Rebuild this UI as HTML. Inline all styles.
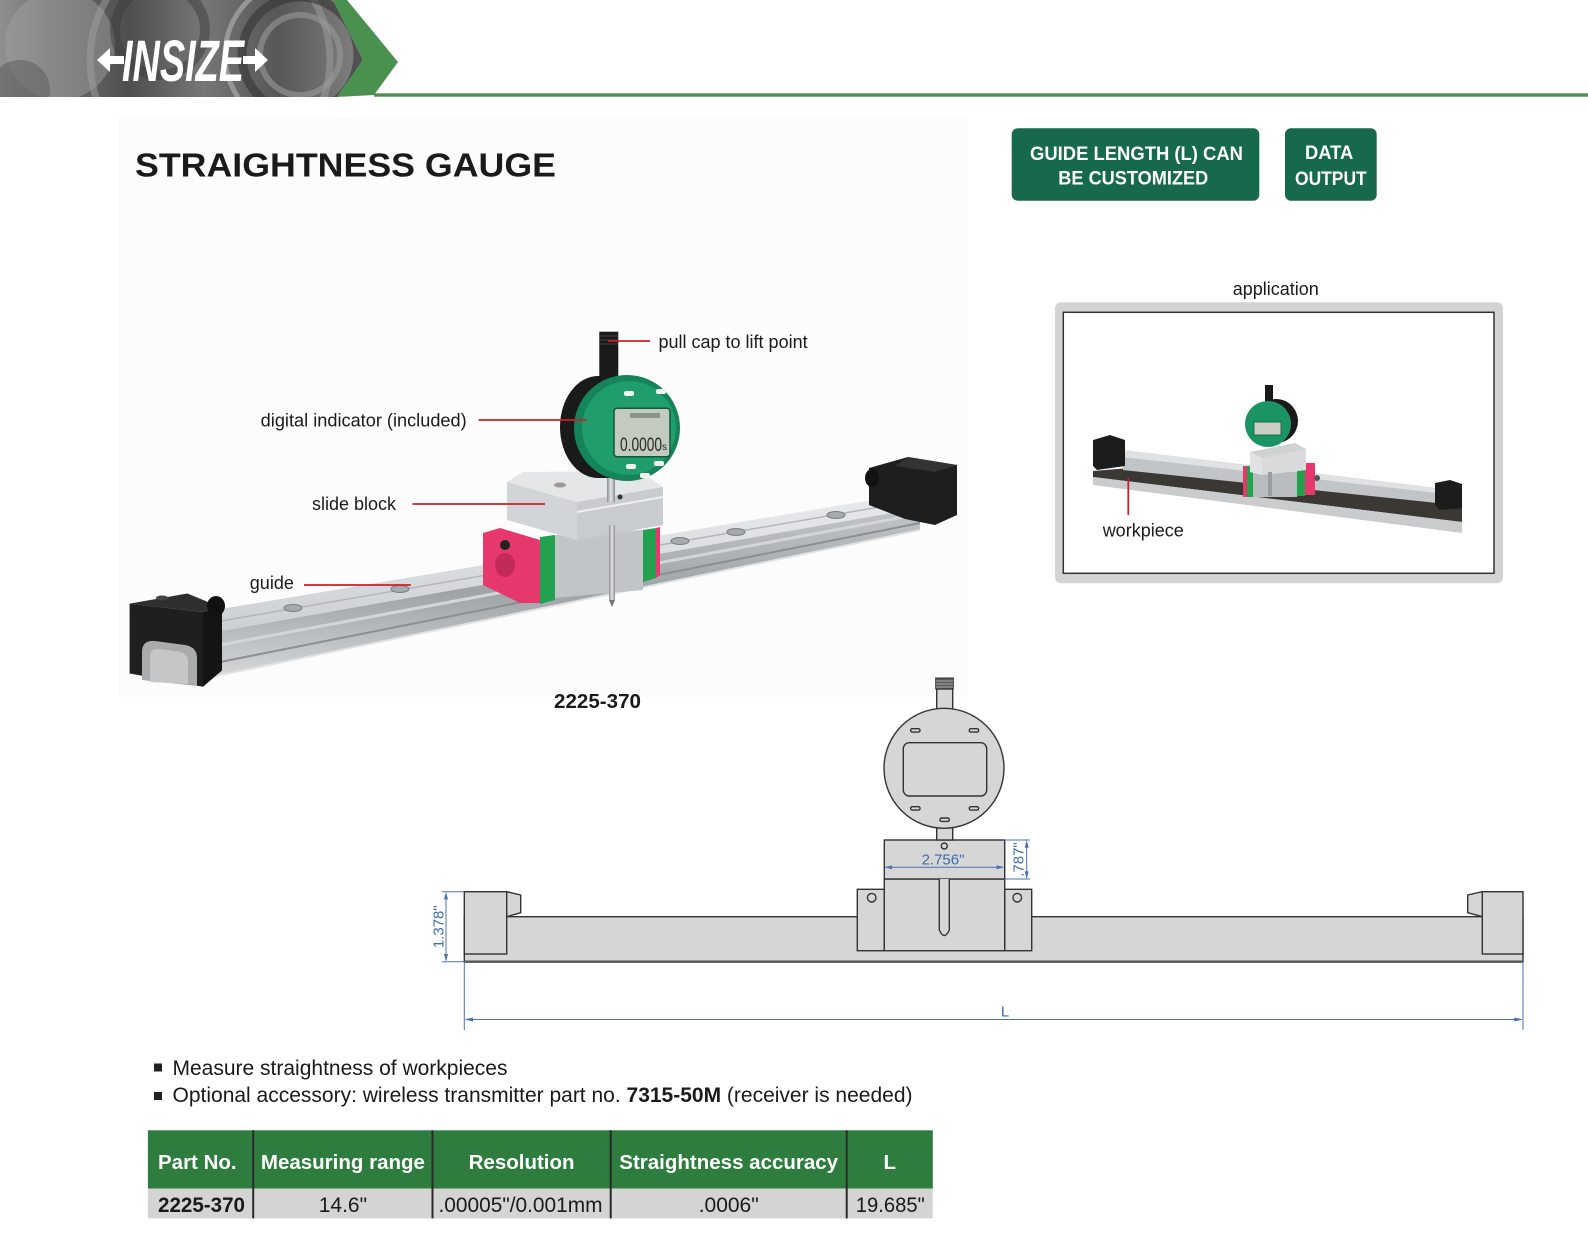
<!DOCTYPE html>
<html><head><meta charset="utf-8"><style>
html,body{margin:0;padding:0;background:#fff;}
svg{display:block;}
text{font-family:"Liberation Sans",Arial,sans-serif;}
</style></head><body>
<svg width="1588" height="1260" viewBox="0 0 1588 1260" xmlns="http://www.w3.org/2000/svg">
<defs>
 <linearGradient id="ban" x1="0" x2="1" y1="0" y2="0">
  <stop offset="0" stop-color="#8f8f8f"/><stop offset="0.15" stop-color="#6f6f6f"/>
  <stop offset="0.35" stop-color="#4e4e4e"/><stop offset="0.55" stop-color="#767676"/>
  <stop offset="0.75" stop-color="#575757"/><stop offset="1" stop-color="#858585"/>
 </linearGradient>
 <clipPath id="banclip"><polygon points="0,0 333,0 363,60 337,97 0,97"/></clipPath>
 <linearGradient id="railTop" x1="0" x2="0" y1="0" y2="1">
  <stop offset="0" stop-color="#e8eaec"/><stop offset="1" stop-color="#cdd0d3"/>
 </linearGradient>
 <linearGradient id="railFront" x1="0" x2="0" y1="0" y2="1">
  <stop offset="0" stop-color="#c2c6c9"/><stop offset="0.5" stop-color="#9ea3a7"/><stop offset="1" stop-color="#d6d8da"/>
 </linearGradient>
 <linearGradient id="probe" x1="0" x2="1" y1="0" y2="0">
  <stop offset="0" stop-color="#8a8d90"/><stop offset="0.5" stop-color="#e4e6e8"/><stop offset="1" stop-color="#8a8d90"/>
 </linearGradient>
</defs>

<!-- ===== HEADER ===== -->
<g clip-path="url(#banclip)">
 <rect x="0" y="0" width="370" height="97" fill="url(#ban)"/>
 <circle cx="60" cy="45" r="55" fill="#a4a4a4" opacity="0.45"/>
 <circle cx="210" cy="60" r="120" fill="none" stroke="#a0a0a0" stroke-width="7" opacity="0.5"/>
 <circle cx="300" cy="55" r="75" fill="none" stroke="#b5b5b5" stroke-width="5" opacity="0.6"/>
 <circle cx="300" cy="55" r="58" fill="none" stroke="#333" stroke-width="9" opacity="0.6"/>
 <circle cx="300" cy="55" r="40" fill="none" stroke="#9a9a9a" stroke-width="6" opacity="0.6"/>
 <circle cx="160" cy="30" r="45" fill="none" stroke="#3c3c3c" stroke-width="10" opacity="0.5"/>
 <circle cx="20" cy="90" r="30" fill="#5a5a5a" opacity="0.5"/>
</g>
<polygon points="333,0 347,0 398,62 374,95 337,97 363,60" fill="#4a9150"/>
<rect x="374" y="93.3" width="1214" height="3.4" fill="#4a9150"/>
<g fill="#fff">
 <polygon points="97,60 110,48 110,56 124,56 124,64 110,64 110,72"/>
 <polygon points="268,60 255,48 255,56 243,56 243,64 255,64 255,72"/>
 <text x="122" y="81" font-size="58" font-weight="bold" font-style="italic" textLength="122" lengthAdjust="spacingAndGlyphs">INSIZE</text>
</g>

<rect x="118" y="117" width="849" height="580" fill="#fcfcfc"/>

<text x="135" y="176.7" font-size="33" font-weight="bold" fill="#1a1a1a" textLength="421" lengthAdjust="spacingAndGlyphs">STRAIGHTNESS GAUGE</text>

<rect x="1011.7" y="128.3" width="247.6" height="72.4" rx="6" fill="#17694b"/>
<rect x="1285" y="128.3" width="91.7" height="72.4" rx="6" fill="#17694b"/>
<g fill="#fff" font-weight="bold" font-size="19.5">
 <text x="1030" y="160" textLength="213" lengthAdjust="spacingAndGlyphs">GUIDE LENGTH (L) CAN</text>
 <text x="1058.3" y="184.5" textLength="150" lengthAdjust="spacingAndGlyphs">BE CUSTOMIZED</text>
 <text x="1305" y="159" textLength="48.3" lengthAdjust="spacingAndGlyphs">DATA</text>
 <text x="1295" y="185" textLength="71.7" lengthAdjust="spacingAndGlyphs">OUTPUT</text>
</g>

<!-- ===== MAIN PHOTO ===== -->
<polygon points="215,610 920,492 920,508 215,632" fill="url(#railTop)"/>
<line x1="215" y1="622" x2="920" y2="500" stroke="#b3b7bb" stroke-width="1.5"/>
<polygon points="215,632 920,508 920,530 215,677" fill="url(#railFront)"/>
<line x1="215" y1="646" x2="920" y2="514" stroke="#d3d6d8" stroke-width="3"/>
<line x1="215" y1="663" x2="920" y2="523" stroke="#8a8f93" stroke-width="2"/>
<line x1="215" y1="676" x2="920" y2="530" stroke="#e0e2e4" stroke-width="2"/>
<g fill="#a6aaae" stroke="#7a7e82" stroke-width="1">
 <ellipse cx="293" cy="608" rx="9" ry="3.5"/>
 <ellipse cx="400" cy="589" rx="9" ry="3.5"/>
 <ellipse cx="680" cy="541" rx="9" ry="3.5"/>
 <ellipse cx="736" cy="532" rx="9" ry="3.5"/>
 <ellipse cx="836" cy="515" rx="9" ry="3.5"/>
</g>
<polygon points="869,468 908,457 957,465 957,515 935,525 905,519 869,505" fill="#1e1e1e"/>
<polygon points="908,457 957,465 935,472 895,466" fill="#333"/>
<ellipse cx="872" cy="478" rx="7" ry="9" fill="#111"/>
<polygon points="129.6,603.6 187.4,593.5 222,607.7 203,612" fill="#2f2f2f"/>
<polygon points="129.6,603.6 203,612 203,686.7 129.6,673.5" fill="#1f1f1f"/>
<polygon points="203,612 222,607.7 222,670.5 203,686.7" fill="#141414"/>
<path d="M142,680 L142,652 Q142,640 155,641 L185,645 Q197,647 197,658 L197,686 Z" fill="#a9abad"/>
<path d="M150,682 L150,656 Q150,648 160,649 L180,652 Q188,654 188,662 L188,684 Z" fill="#c4c6c8"/>
<ellipse cx="162" cy="598" rx="6" ry="2.5" fill="#444"/>
<ellipse cx="216" cy="606" rx="9" ry="10" fill="#111"/>
<!-- carriage -->
<polygon points="483,533 500,528 540,540 540,603 520,603 483,585" fill="#e6386c"/>
<ellipse cx="505" cy="565" rx="10" ry="12" fill="#c42a58"/>
<circle cx="505" cy="545" r="5" fill="#222"/>
<polygon points="540,537 555,535 555,600 540,604" fill="#22a24e"/>
<polygon points="555,535 643,530 643,590 555,598" fill="#c2c5c8"/>
<polygon points="643,530 656,528 656,578 643,582" fill="#22a24e"/>
<polygon points="656,528 660,527 660,575 656,578" fill="#e6386c"/>
<!-- slide block -->
<polygon points="507,482 523,472 640,471 663,487 577,502" fill="#e4e6e8"/>
<polygon points="507,482 577,502 577,540 507,520" fill="#d2d5d7"/>
<polygon points="577,502 663,487 663,525 577,540" fill="#c9ccce"/>
<line x1="577" y1="512" x2="663" y2="497" stroke="#eef0f1" stroke-width="2"/>
<circle cx="620" cy="497" r="2.5" fill="#333"/>
<ellipse cx="560" cy="485" rx="6" ry="2.5" fill="#999"/>
<rect x="607" y="476" width="8" height="26" fill="url(#probe)"/>
<rect x="609" y="525" width="6" height="75" fill="url(#probe)"/>
<polygon points="609,600 615,600 612,607" fill="#777"/>
<!-- indicator -->
<rect x="599.3" y="331.7" width="19" height="46" fill="#1a1a1a"/>
<g stroke="#444" stroke-width="1"><line x1="600" y1="336" x2="618" y2="336"/><line x1="600" y1="340" x2="618" y2="340"/><line x1="600" y1="344" x2="618" y2="344"/></g>
<ellipse cx="598" cy="427" rx="38" ry="51" fill="#1a1a1a"/>
<rect x="598" y="376" width="29" height="102" fill="#1a1a1a"/>
<circle cx="627" cy="428" r="53" fill="#15845a"/>
<circle cx="629" cy="428" r="47" fill="#1f9d6b"/>
<rect x="614" y="408.3" width="56" height="48.4" rx="3" fill="#c3cbbe" stroke="#0f5a3a" stroke-width="1.5"/>
<text x="620" y="451" font-size="19" fill="#2a2a2a" textLength="42" lengthAdjust="spacingAndGlyphs">0.0000</text>
<text x="662" y="450" font-size="10" fill="#2a2a2a">s</text>
<rect x="630" y="413" width="30" height="5" fill="#8c9488"/>
<g fill="#eef2ee">
 <rect x="624" y="391" width="10" height="5" rx="2"/><rect x="656" y="389" width="10" height="5" rx="2"/>
 <rect x="626" y="464" width="10" height="5" rx="2"/><rect x="654" y="461" width="10" height="5" rx="2"/>
 <rect x="640" y="473" width="10" height="5" rx="2"/>
</g>
<g stroke="#c8202a" stroke-width="1.8">
 <line x1="608" y1="341" x2="650" y2="341"/>
 <line x1="478.6" y1="420" x2="587" y2="420"/>
 <line x1="412.4" y1="504" x2="545" y2="504"/>
 <line x1="304" y1="585" x2="410.8" y2="585"/>
</g>
<g font-size="18" fill="#1a1a1a">
 <text x="658.5" y="348">pull cap to lift point</text>
 <text x="260.7" y="426.7" textLength="206" lengthAdjust="spacingAndGlyphs">digital indicator (included)</text>
 <text x="312" y="510">slide block</text>
 <text x="249.8" y="589">guide</text>
</g>
<text x="554" y="708" font-size="20" font-weight="bold" fill="#1a1a1a" textLength="87" lengthAdjust="spacingAndGlyphs">2225-370</text>

<!-- ===== APPLICATION ===== -->
<text x="1232.7" y="295" font-size="18" fill="#1a1a1a">application</text>
<rect x="1055" y="302.3" width="448" height="281" rx="6" fill="#d3d3d3"/>
<rect x="1063.3" y="312.3" width="430.7" height="261" fill="#fff" stroke="#333" stroke-width="1.5"/>
<polygon points="1093,471 1130,468 1462,500 1462,522 1093,477" fill="#3b3733"/>
<polygon points="1093,477 1462,522 1462,533 1093,485" fill="#c9cbcd"/>
<polygon points="1123,450 1437,488 1437,503 1123,470" fill="#c2c5c8"/>
<polygon points="1123,450 1437,488 1437,493 1123,457" fill="#dfe1e2"/>
<polygon points="1093,440 1110,435 1125,440 1125,466 1097,470 1093,466" fill="#1c1c1c"/>
<polygon points="1435,483 1450,480 1462,484 1462,508 1440,510 1435,505" fill="#1c1c1c"/>
<rect x="1243" y="466" width="4" height="31" fill="#e6386c"/>
<rect x="1247" y="466" width="6" height="31" fill="#22a24e"/>
<rect x="1253" y="472" width="44" height="25" fill="#b9bcbf"/>
<rect x="1297" y="463" width="8" height="33" fill="#22a24e"/>
<rect x="1305" y="463" width="10" height="32" fill="#e6386c"/>
<circle cx="1317" cy="478" r="3" fill="#555"/>
<polygon points="1250,452 1295,443 1306,449 1306,470 1262,475 1250,472" fill="#cfd1d3"/>
<polygon points="1250,452 1262,458 1262,475 1250,472" fill="#e1e3e4"/>
<polygon points="1262,458 1306,449 1306,470 1262,475" fill="#d8dadc"/>
<rect x="1268" y="472" width="4" height="24" fill="#9a9da0"/>
<rect x="1265" y="385" width="8" height="20" fill="#1a1a1a"/>
<circle cx="1276" cy="421" r="22" fill="#1a1a1a"/>
<circle cx="1268" cy="424" r="23" fill="#1b9464"/>
<rect x="1254" y="422" width="27" height="13" fill="#c8cfc4" stroke="#0f5a3a" stroke-width="0.8"/>
<line x1="1128.3" y1="478" x2="1128.3" y2="515" stroke="#c8202a" stroke-width="1.8"/>
<text x="1102.7" y="536.7" font-size="18" fill="#1a1a1a">workpiece</text>

<!-- ===== TECHNICAL DRAWING ===== -->
<g stroke="#333" stroke-width="1.4" fill="#d6d6d6">
 <rect x="464.3" y="916.7" width="1058.7" height="45"/>
 <rect x="464.3" y="891.7" width="42.4" height="62.3"/>
 <polygon points="506.7,891.7 520.7,895 520.7,912.7 506.7,916.7"/>
 <rect x="1482.3" y="891.7" width="40.7" height="62.3"/>
 <polygon points="1482.3,891.7 1467.7,895 1467.7,912.7 1482.3,916.7"/>
 <rect x="857.3" y="889.3" width="27" height="61.4"/>
 <rect x="1004.7" y="889.3" width="27" height="61.4"/>
 <rect x="884.3" y="879" width="120.4" height="71.7"/>
 <rect x="884.3" y="840" width="120.4" height="39"/>
 <rect x="936.7" y="826" width="16" height="14"/>
 <rect x="936.7" y="689" width="16" height="22"/>
 <circle cx="944" cy="768.3" r="60"/>
 <rect x="903.3" y="742.7" width="83.4" height="53.3" rx="6"/>
 <rect x="910.7" y="728.7" width="9.3" height="3.4" rx="1.5"/>
 <rect x="969.3" y="728.7" width="9.3" height="3.4" rx="1.5"/>
 <rect x="910.7" y="806.7" width="9.3" height="3.4" rx="1.5"/>
 <rect x="969.3" y="806.7" width="9.3" height="3.4" rx="1.5"/>
 <rect x="940" y="818" width="9.3" height="3.4" rx="1.5"/>
 <circle cx="944.3" cy="846" r="3"/>
 <circle cx="871.7" cy="897.7" r="4.3"/>
 <circle cx="1017.3" cy="897.7" r="4.3"/>
 <path d="M939.3,879 L939.3,930 Q944.3,941 949.3,930 L949.3,879"/>
</g>
<rect x="935.7" y="678" width="17.6" height="11" fill="#5a5a5a" stroke="#333" stroke-width="1"/>
<g stroke="#aaa" stroke-width="1"><line x1="936" y1="681" x2="953" y2="681"/><line x1="936" y1="684" x2="953" y2="684"/><line x1="936" y1="687" x2="953" y2="687"/></g>
<line x1="464.3" y1="961.7" x2="1523" y2="961.7" stroke="#555" stroke-width="2.4"/>

<g stroke="#4a72b0" stroke-width="1" fill="none">
 <line x1="886" y1="867.3" x2="1003" y2="867.3"/>
 <line x1="1004.3" y1="840" x2="1030" y2="840"/>
 <line x1="1004.3" y1="879" x2="1030" y2="879"/>
 <line x1="1026.7" y1="842" x2="1026.7" y2="877"/>
 <line x1="441.7" y1="891.7" x2="464.3" y2="891.7"/>
 <line x1="441.7" y1="961.7" x2="464.3" y2="961.7"/>
 <line x1="446" y1="894" x2="446" y2="959"/>
 <line x1="464.3" y1="962" x2="464.3" y2="1030"/>
 <line x1="1523" y1="962" x2="1523" y2="1030"/>
 <line x1="466" y1="1019.5" x2="1521" y2="1019.5"/>
</g>
<g fill="#4a72b0">
 <polygon points="884.3,867.3 892,865.3 892,869.3"/>
 <polygon points="1004.3,867.3 996.6,865.3 996.6,869.3"/>
 <polygon points="1026.7,840 1024.7,847.7 1028.7,847.7"/>
 <polygon points="1026.7,879 1024.7,871.3 1028.7,871.3"/>
 <polygon points="446,891.7 444,899.4 448,899.4"/>
 <polygon points="446,961.7 444,954 448,954"/>
 <polygon points="464.3,1019.5 473,1017.5 473,1021.5"/>
 <polygon points="1523,1019.5 1514.3,1017.5 1514.3,1021.5"/>
</g>
<g fill="#3f6bb0" font-size="15">
 <text x="943" y="864.5" text-anchor="middle">2.756"</text>
 <text x="0" y="0" text-anchor="middle" transform="translate(1023.5,859.5) rotate(-90)">.787"</text>
 <text x="0" y="0" text-anchor="middle" transform="translate(443.5,926.7) rotate(-90)">1.378"</text>
 <text x="1005" y="1016.7" text-anchor="middle">L</text>
</g>

<!-- ===== BULLETS ===== -->
<rect x="154" y="1063.5" width="8" height="8" fill="#222"/>
<rect x="154" y="1092" width="8" height="8" fill="#222"/>
<g font-size="21" fill="#1a1a1a">
 <text x="172.5" y="1075">Measure straightness of workpieces</text>
 <text x="172.5" y="1102">Optional accessory: wireless transmitter part no. <tspan font-weight="bold">7315-50M</tspan> (receiver is needed)</text>
</g>

<!-- ===== TABLE ===== -->
<rect x="147.9" y="1130.3" width="784.9" height="58.2" fill="#2e7d3e"/>
<rect x="147.9" y="1188.5" width="784.9" height="29.9" fill="#d4d4d4"/>
<g stroke="#2a2a2a" stroke-width="2">
 <line x1="253.2" y1="1130.3" x2="253.2" y2="1218.4"/>
 <line x1="432.5" y1="1130.3" x2="432.5" y2="1218.4"/>
 <line x1="610.7" y1="1130.3" x2="610.7" y2="1218.4"/>
 <line x1="846.7" y1="1130.3" x2="846.7" y2="1218.4"/>
</g>
<g fill="#fff" font-weight="bold" font-size="20.5">
 <text x="158" y="1169">Part No.</text>
 <text x="342.9" y="1169" text-anchor="middle">Measuring range</text>
 <text x="521.6" y="1169" text-anchor="middle">Resolution</text>
 <text x="728.7" y="1169" text-anchor="middle">Straightness accuracy</text>
 <text x="889.8" y="1169" text-anchor="middle">L</text>
</g>
<g fill="#1a1a1a" font-size="21">
 <text x="158" y="1212" font-weight="bold" textLength="87" lengthAdjust="spacingAndGlyphs">2225-370</text>
 <text x="342.9" y="1212" text-anchor="middle">14.6"</text>
 <text x="438.5" y="1212" textLength="164" lengthAdjust="spacingAndGlyphs">.00005"/0.001mm</text>
 <text x="728.7" y="1212" text-anchor="middle">.0006"</text>
 <text x="855.8" y="1212" textLength="69" lengthAdjust="spacingAndGlyphs">19.685"</text>
</g>
</svg>
</body></html>
